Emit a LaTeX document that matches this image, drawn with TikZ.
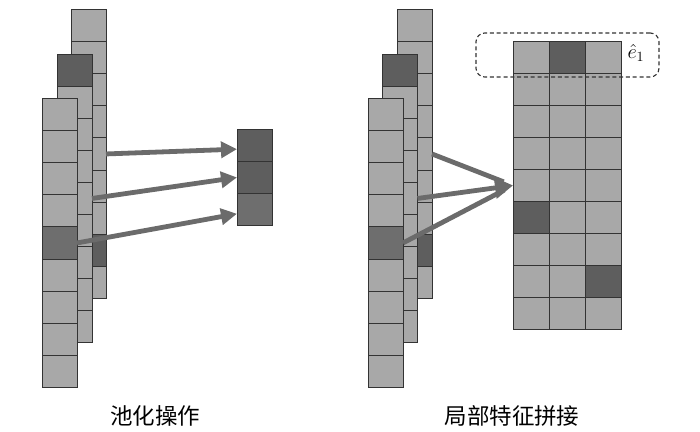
\documentclass[tikz,border=0pt]{standalone}
\usepackage{fontspec}
\newfontfamily\cjk{Noto Sans CJK SC}
\usepackage{tikz}
\usetikzlibrary{arrows.meta,positioning,calc}
\definecolor{cellLight}{HTML}{A8A8A8}
\definecolor{cellDark}{HTML}{5E5E5E}
\definecolor{cellMid}{HTML}{6E6E6E}
\definecolor{cellEdge}{HTML}{333333}
\definecolor{arrGrey}{HTML}{6B6B6B}

\begin{document}
\begin{tikzpicture}[x=0.25mm,y=-0.25mm,
  cell/.style={draw=cellEdge,line width=0.7pt,fill=cellLight,inner sep=0pt,outer sep=0pt,
    minimum width=8.75mm,minimum height=8.025mm},
  wcell/.style={cell,minimum width=9mm},
  arr/.style={-{Triangle[length=4mm,width=4mm]},draw=arrGrey,line width=1.2mm},
  bigarr/.style={arr,-{Triangle[length=4.5mm,width=5.2mm]}},
  stem/.style={draw=arrGrey,line width=1.2mm,shorten >=2.5mm},
  selbox/.style={draw=cellEdge,dash pattern=on 1mm off 0.7mm,line width=0.8pt,rounded corners=2.2mm,
    minimum width=45.75mm,minimum height=11mm,inner sep=0pt},
  captext/.style={font=\cjk\fontsize{16}{18}\selectfont,inner sep=0pt}]

\useasboundingbox (0,0) rectangle (700,431);

% stacked feature columns (back, middle, front)
\foreach \nm/\cx/\cy/\dk/\dc in {Lb/71/9.5/7/cellDark,Lm/57/54/0/cellDark,Lf/42/98.5/4/cellMid,
    Rb/397/9.5/7/cellDark,Rm/382.5/54/0/cellDark,Rf/368/98.5/4/cellMid}{
  \foreach \i in {0,...,8}{
    \ifnum\i=\dk\relax\def\fc{\dc}\else\def\fc{cellLight}\fi
    \node[cell,fill=\fc] (\nm\i) at (\cx+17.5,\cy+16.05+32.1*\i) {};
  }
}

% pooled column
\foreach \i/\fc in {0/cellDark,1/cellDark,2/cellMid}
  \node[cell,fill=\fc] (P\i) at (254.5,129+16.15+32.3*\i) {};

% concatenated matrix
\foreach \r in {0,...,8}{
  \foreach \c in {0,1,2}{
    \pgfmathtruncatemacro\isdk{(\r==0&&\c==1)||(\r==5&&\c==0)||(\r==7&&\c==2)}
    \ifnum\isdk=1\relax\def\fc{cellDark}\else\def\fc{cellLight}\fi
    \node[wcell,fill=\fc] (M\r\c) at (531+36*\c,41+16.05+32.1*\r) {};
  }
}

\node[selbox] (sel) at (567.5,55) {};
\node[inner sep=0pt,font=\fontsize{14}{16}\selectfont] (e1) at (636,53) {$\hat{e}_1$};

\draw[arr] (Lb4.east) -- ([yshift=-1mm]P0.west);
\draw[arr] (Lm4.east) -- (P1.west);
\draw[arr] (Lf4.east) -- ([yshift=-1mm]P2.west);

\draw[stem] (Rb4.east) -- (M40.west);
\draw[stem] (Rf4.east) -- (M40.west);
\draw[bigarr] (Rm4.east) -- (M40.west);

\node[captext] (capL) at (155,416) {池化操作};
\node[captext] (capR) at (512,416) {局部特征拼接};
\end{tikzpicture}
\end{document}
